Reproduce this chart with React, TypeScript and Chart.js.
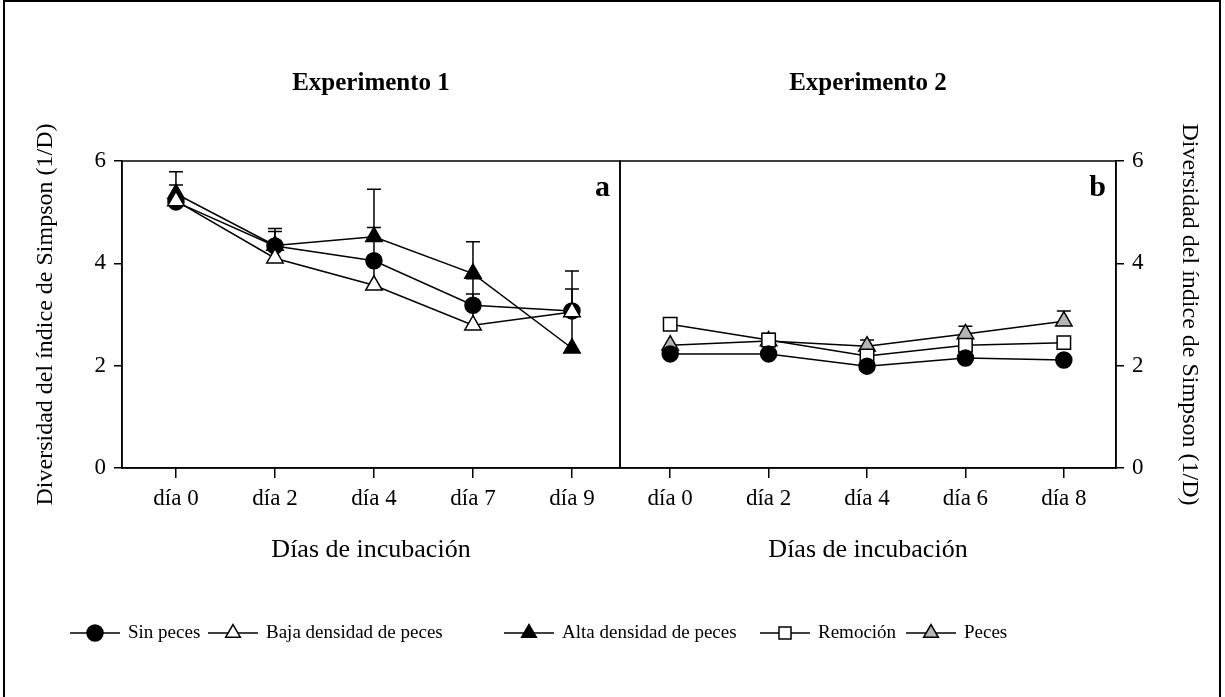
import React, { useEffect, useRef } from 'react';
import { Chart, registerables } from 'chart.js';

Chart.register(...registerables);

const FONT = '"Liberation Serif", "Times New Roman", Times, serif';

// ---- data ----
const dias1 = ['día 0', 'día 2', 'día 4', 'día 7', 'día 9'];
const dias2 = ['día 0', 'día 2', 'día 4', 'día 6', 'día 8'];
const yTicks = [0, 2, 4, 6];

const sinPeces1 = [5.2, 4.34, 4.05, 3.18, 3.07];
const sinPeces1Err = [0.33, 0.28, 0.65, 0.52, 0.43];
const baja1 = [5.22, 4.1, 3.57, 2.79, 3.05];
const baja1Err = [0, 0, 0.48, 0.61, 0];
const alta1 = [5.36, 4.35, 4.52, 3.8, 2.34];
const alta1Err = [0.43, 0.33, 0.93, 0.62, 1.51];

const sinPeces2 = [2.23, 2.23, 1.99, 2.15, 2.11];
const sinPeces2Err = [0, 0, 0, 0, 0];
const remocion2 = [2.81, 2.5, 2.19, 2.4, 2.45];
const remocion2Err = [0, 0.1, 0, 0, 0];
const peces2 = [2.4, 2.48, 2.38, 2.62, 2.87];
const peces2Err = [0, 0.15, 0.12, 0.15, 0.2];

const panelTitles = ['Experimento 1', 'Experimento 2'];
const panelLetters = ['a', 'b'];
const yTitle = 'Diversidad del índice de Simpson (1/D)';
const xTitle = 'Días de incubación';
const legendLabels = ['Sin peces', 'Baja densidad de peces', 'Alta densidad de peces', 'Remoción', 'Peces'];

const GRAY = '#b4b4b4';

type Sty = { shape: string; fill: string; r: number };
const styles: Record<string, Sty> = {
  sin: { shape: 'circle', fill: '#000', r: 8 },
  baja: { shape: 'triangle', fill: '#fff', r: 9.5 },
  alta: { shape: 'triangle', fill: '#000', r: 9.5 },
  rem: { shape: 'rect', fill: '#fff', r: 9.5 },
  pec: { shape: 'triangle', fill: GRAY, r: 9.5 },
};
const legendKeys = ['sin', 'baja', 'alta', 'rem', 'pec'];
const legendLineStarts = [70, 208, 504, 760, 906];

function drawMarker(ctx: CanvasRenderingContext2D, s: Sty, x: number, y: number, r: number) {
  ctx.save();
  ctx.fillStyle = s.fill;
  ctx.strokeStyle = '#000';
  ctx.lineWidth = 1.5;
  ctx.beginPath();
  if (s.shape === 'circle') {
    ctx.arc(x, y, r, 0, Math.PI * 2);
  } else if (s.shape === 'triangle') {
    const a = (2 * Math.PI) / 3;
    ctx.moveTo(x, y - r);
    ctx.lineTo(x + Math.sin(a) * r, y - Math.cos(a) * r);
    ctx.lineTo(x + Math.sin(2 * a) * r, y - Math.cos(2 * a) * r);
    ctx.closePath();
  } else {
    const h = r * Math.SQRT1_2;
    ctx.rect(x - h, y - h, 2 * h, 2 * h);
  }
  ctx.fill();
  ctx.stroke();
  ctx.restore();
}

function ds(label: string, values: number[], err: number[], key: string) {
  const s = styles[key];
  return {
    label,
    data: values.map((v, i) => ({ x: i, y: v })),
    errUp: err,
    borderColor: '#000',
    borderWidth: 1.5,
    pointStyle: s.shape,
    pointRadius: s.r,
    pointHoverRadius: s.r,
    pointBackgroundColor: s.fill,
    pointBorderColor: '#000',
    pointBorderWidth: 1.5,
    fill: false,
    tension: 0,
  };
}

const errorBarPlugin = {
  id: 'errorBars',
  beforeDatasetsDraw(chart: any) {
    const { ctx } = chart;
    const yScale = chart.scales.y;
    ctx.save();
    ctx.strokeStyle = '#000';
    ctx.lineWidth = 1.5;
    chart.data.datasets.forEach((d: any, di: number) => {
      const meta = chart.getDatasetMeta(di);
      (d.errUp || []).forEach((e: number, i: number) => {
        if (!e) return;
        const v = d.data[i].y;
        const px = meta.data[i].x;
        const y0 = yScale.getPixelForValue(v);
        const y1 = yScale.getPixelForValue(v + e);
        ctx.beginPath();
        ctx.moveTo(px, y0);
        ctx.lineTo(px, y1);
        ctx.moveTo(px - 7, y1);
        ctx.lineTo(px + 7, y1);
        ctx.stroke();
      });
    });
    ctx.restore();
  },
};

function framePlugin(panel: number) {
  return {
    id: 'frame' + panel,
    afterDraw(chart: any) {
      const { ctx, chartArea: a } = chart;
      ctx.save();
      ctx.strokeStyle = '#000';
      ctx.lineWidth = 1.5;
      ctx.strokeRect(a.left, a.top, a.right - a.left, a.bottom - a.top);
      ctx.fillStyle = '#000';
      ctx.textBaseline = 'middle';
      ctx.textAlign = 'center';
      ctx.font = `bold 25px ${FONT}`;
      ctx.fillText(panelTitles[panel], (a.left + a.right) / 2, 84);
      ctx.textAlign = 'right';
      ctx.font = `bold 30px ${FONT}`;
      ctx.fillText(panelLetters[panel], a.right - 10, a.top + 27);
      ctx.restore();
    },
  };
}

const legendPlugin = {
  id: 'customLegend',
  afterDraw(chart: any) {
    const { ctx } = chart;
    const y = 633;
    ctx.save();
    ctx.font = `19px ${FONT}`;
    ctx.textBaseline = 'middle';
    ctx.textAlign = 'left';
    legendKeys.forEach((k, i) => {
      const x = legendLineStarts[i];
      ctx.strokeStyle = '#000';
      ctx.lineWidth = 1.5;
      ctx.beginPath();
      ctx.moveTo(x, y);
      ctx.lineTo(x + 50, y);
      ctx.stroke();
      const s = styles[k];
      drawMarker(ctx, s, x + 25, y, s.shape === 'circle' ? 8 : 8.5);
      ctx.fillStyle = '#000';
      ctx.fillText(legendLabels[i], x + 58, y);
    });
    ctx.restore();
  },
};

function makeConfig(panel: number): any {
  const isA = panel === 0;
  const labels = isA ? dias1 : dias2;
  const datasets = isA
    ? [
        ds('Baja densidad de peces', baja1, baja1Err, 'baja'),
        ds('Sin peces', sinPeces1, sinPeces1Err, 'sin'),
        ds('Alta densidad de peces', alta1, alta1Err, 'alta'),
      ]
    : [
        ds('Sin peces', sinPeces2, sinPeces2Err, 'sin'),
        ds('Remoción', remocion2, remocion2Err, 'rem'),
        ds('Peces', peces2, peces2Err, 'pec'),
      ];
  const tickFont = { family: FONT, size: 23 };
  return {
    type: 'line',
    data: { datasets },
    options: {
      animation: false,
      responsive: false,
      maintainAspectRatio: false,
      events: [],
      layout: {
        padding: isA
          ? { left: 0, top: 161, right: 605, bottom: 99 }
          : { left: 620, top: 161, right: 0, bottom: 99 },
      },
      plugins: { legend: { display: false }, tooltip: { enabled: false }, title: { display: false } },
      scales: {
        x: {
          type: 'linear',
          min: isA ? -0.545 : -0.51,
          max: isA ? 4.485 : 4.53,
          afterBuildTicks: (s: any) => {
            s.ticks = labels.map((_, i) => ({ value: i }));
          },
          afterFit: (s: any) => {
            s.height = 130;
          },
          ticks: {
            callback: (v: any) => labels[v] ?? '',
            font: tickFont,
            color: '#000',
            padding: 7,
            autoSkip: false,
            maxRotation: 0,
          },
          grid: { drawOnChartArea: false, drawTicks: true, tickLength: 10, color: '#000', lineWidth: 1.5 },
          border: { display: true, color: '#000', width: 1.5 },
          title: {
            display: true,
            text: xTitle,
            font: { family: FONT, size: 26 },
            color: '#000',
            padding: { top: 0, bottom: 32 },
          },
        },
        y: {
          position: isA ? 'left' : 'right',
          min: 0,
          max: 6,
          afterBuildTicks: (s: any) => {
            s.ticks = yTicks.map((v) => ({ value: v }));
          },
          afterFit: (s: any) => {
            s.width = isA ? 122 : 109;
          },
          ticks: { font: tickFont, color: '#000', padding: 8 },
          grid: { drawOnChartArea: false, drawTicks: true, tickLength: 8, color: '#000', lineWidth: 1.5 },
          border: { display: true, color: '#000', width: 1.5 },
          title: {
            display: true,
            text: yTitle,
            font: { family: FONT, size: 24 },
            color: '#000',
            padding: { top: isA ? 31 : 21, bottom: 0 },
          },
        },
      },
    },
    plugins: isA ? [errorBarPlugin, framePlugin(0)] : [errorBarPlugin, framePlugin(1), legendPlugin],
  };
}

export default function App() {
  const refA = useRef<HTMLCanvasElement>(null);
  const refB = useRef<HTMLCanvasElement>(null);

  useEffect(() => {
    document.body.style.margin = '0';
    const a = new Chart(refA.current as HTMLCanvasElement, makeConfig(0));
    const b = new Chart(refB.current as HTMLCanvasElement, makeConfig(1));
    return () => {
      a.destroy();
      b.destroy();
    };
  }, []);

  const cstyle: React.CSSProperties = { position: 'absolute', left: 0, top: 0, width: 1225, height: 697 };
  return (
    <div style={{ position: 'absolute', left: 0, top: 0, width: 1225, height: 697, background: '#fff', overflow: 'hidden' }}>
      <div
        style={{
          position: 'absolute',
          left: 3,
          top: 0,
          width: 1218,
          height: 697,
          boxSizing: 'border-box',
          borderTop: '2px solid #000',
          borderLeft: '2px solid #000',
          borderRight: '2px solid #000',
        }}
      />
      <canvas ref={refA} width={1225} height={697} style={cstyle} />
      <canvas ref={refB} width={1225} height={697} style={cstyle} />
    </div>
  );
}
